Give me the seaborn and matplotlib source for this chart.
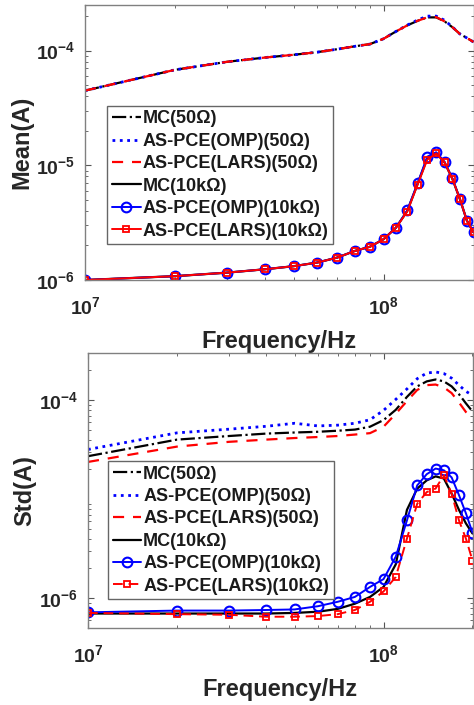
import numpy as np
import matplotlib
matplotlib.use("Agg")
import matplotlib.pyplot as plt
import matplotlib.ticker as mticker
import seaborn as sns

# ---------------- data ----------------
freq = [1e7, 2e7, 3e7, 4e7, 5e7, 6e7, 7e7, 8e7, 9e7, 1e8,
        1.1e8, 1.2e8, 1.3e8, 1.4e8, 1.5e8, 1.6e8, 1.7e8, 1.8e8, 1.9e8, 2e8]

mean_mc_50 = [4.48e-5, 6.8e-5, 8.0e-5, 8.7e-5, 9.2e-5, 9.7e-5, 1.03e-4, 1.09e-4, 1.14e-4, 1.27e-4,
              1.47e-4, 1.66e-4, 1.82e-4, 1.95e-4, 1.95e-4, 1.80e-4, 1.60e-4, 1.40e-4, 1.29e-4, 1.19e-4]
mean_omp_50 = [4.48e-5, 6.8e-5, 8.0e-5, 8.7e-5, 9.2e-5, 9.7e-5, 1.03e-4, 1.09e-4, 1.14e-4, 1.27e-4,
               1.47e-4, 1.67e-4, 1.85e-4, 2.00e-4, 2.00e-4, 1.84e-4, 1.61e-4, 1.40e-4, 1.29e-4, 1.19e-4]
mean_lars_50 = [4.48e-5, 6.8e-5, 8.0e-5, 8.7e-5, 9.2e-5, 9.7e-5, 1.03e-4, 1.09e-4, 1.14e-4, 1.27e-4,
                1.47e-4, 1.66e-4, 1.82e-4, 1.95e-4, 1.96e-4, 1.80e-4, 1.60e-4, 1.40e-4, 1.29e-4, 1.19e-4]

mean_mc_10k = [1.0e-6, 1.08e-6, 1.16e-6, 1.24e-6, 1.32e-6, 1.42e-6, 1.57e-6, 1.79e-6, 1.95e-6, 2.27e-6,
               2.86e-6, 4.0e-6, 6.9e-6, 1.15e-5, 1.28e-5, 1.06e-5, 7.6e-6, 5.1e-6, 3.3e-6, 2.6e-6]
mean_omp_10k = [1.0e-6, 1.08e-6, 1.16e-6, 1.24e-6, 1.32e-6, 1.42e-6, 1.57e-6, 1.79e-6, 1.95e-6, 2.27e-6,
                2.86e-6, 4.05e-6, 7.0e-6, 1.19e-5, 1.30e-5, 1.07e-5, 7.7e-6, 5.1e-6, 3.3e-6, 2.6e-6]
mean_lars_10k = [1.0e-6, 1.08e-6, 1.16e-6, 1.24e-6, 1.32e-6, 1.42e-6, 1.57e-6, 1.79e-6, 1.95e-6, 2.27e-6,
                 2.86e-6, 3.95e-6, 6.8e-6, 1.12e-5, 1.27e-5, 1.06e-5, 7.6e-6, 5.1e-6, 3.3e-6, 2.6e-6]

std_mc_50 = [2.72e-5, 4.0e-5, 4.35e-5, 4.6e-5, 4.72e-5, 4.8e-5, 4.92e-5, 5.05e-5, 5.4e-5, 6.3e-5,
             8.0e-5, 1.08e-4, 1.38e-4, 1.55e-4, 1.62e-4, 1.55e-4, 1.38e-4, 1.15e-4, 9.3e-5, 7.7e-5]
std_omp_50 = [3.18e-5, 4.68e-5, 5.1e-5, 5.45e-5, 5.85e-5, 5.5e-5, 5.6e-5, 5.85e-5, 6.35e-5, 7.9e-5,
              1.02e-4, 1.30e-4, 1.65e-4, 1.88e-4, 1.93e-4, 1.86e-4, 1.67e-4, 1.42e-4, 1.23e-4, 1.12e-4]
std_lars_50 = [2.38e-5, 3.4e-5, 3.8e-5, 4.0e-5, 4.15e-5, 4.25e-5, 4.35e-5, 4.5e-5, 4.65e-5, 5.4e-5,
               7.3e-5, 9.8e-5, 1.27e-4, 1.42e-4, 1.44e-4, 1.35e-4, 1.18e-4, 9.5e-5, 7.6e-5, 6.5e-5]

std_mc_10k = [7.0e-7, 7.0e-7, 7.0e-7, 7.0e-7, 7.1e-7, 7.3e-7, 7.8e-7, 8.8e-7, 1.03e-6, 1.3e-6,
              2.2e-6, 7.8e-6, 1.28e-5, 1.55e-5, 1.70e-5, 1.62e-5, 1.14e-5, 7.8e-6, 5.7e-6, 4.5e-6]
std_omp_10k = [7.2e-7, 7.5e-7, 7.5e-7, 7.6e-7, 7.7e-7, 8.3e-7, 9.2e-7, 1.03e-6, 1.3e-6, 1.56e-6,
               2.63e-6, 6.1e-6, 1.38e-5, 1.79e-5, 2.04e-5, 1.96e-5, 1.66e-5, 1.1e-5, 7.2e-6, 4.6e-6]
std_lars_10k = [7.1e-7, 6.9e-7, 6.8e-7, 6.5e-7, 6.5e-7, 6.6e-7, 6.9e-7, 7.6e-7, 9.2e-7, 1.17e-6,
                1.64e-6, 4.0e-6, 9.0e-6, 1.18e-5, 1.28e-5, 1.75e-5, 1.14e-5, 6.1e-6, 4.0e-6, 2.4e-6]

labels = ["MC(50Ω)", "AS-PCE(OMP)(50Ω)", "AS-PCE(LARS)(50Ω)",
          "MC(10kΩ)", "AS-PCE(OMP)(10kΩ)", "AS-PCE(LARS)(10kΩ)"]
xtick_vals = [1e7, 1e8]

# ---------------- style ----------------
sns.set_theme(style="ticks")
plt.rcParams["font.family"] = ["Liberation Sans", "DejaVu Sans"]
plt.rcParams["font.weight"] = "bold"
plt.rcParams["mathtext.fontset"] = "custom"
plt.rcParams["mathtext.rm"] = "Liberation Sans:bold"
plt.rcParams["mathtext.bf"] = "Liberation Sans:bold"
plt.rcParams["mathtext.it"] = "Liberation Sans:bold"

W, H = 474, 705
fig = plt.figure(figsize=(W / 100, H / 100), dpi=100)
ax1 = fig.add_axes([85 / W, 1 - 280 / H, 388.5 / W, 275 / H])
ax2 = fig.add_axes([88 / W, 1 - 628 / H, 384.5 / W, 275 / H])

LW = 1.6


def draw(ax, s50, s10k, lars10_ls):
    mc50, omp50, lars50 = s50
    mc10, omp10, lars10 = s10k
    sns.lineplot(x=freq, y=mc50, ax=ax, color="black", linestyle="-.", lw=LW, label=labels[0])
    sns.lineplot(x=freq, y=omp50, ax=ax, color="blue", linestyle=":", lw=LW + 0.4, label=labels[1])
    sns.lineplot(x=freq, y=lars50, ax=ax, color="red", linestyle=(0, (5, 4)), lw=LW, label=labels[2])
    sns.lineplot(x=freq, y=mc10, ax=ax, color="black", linestyle="-", lw=LW, label=labels[3])
    sns.lineplot(x=freq, y=omp10, ax=ax, color="blue", linestyle="-", lw=LW - 0.2, marker="o",
                 markersize=7, markerfacecolor="none", mec="blue", mew=1.5, label=labels[4])
    sns.lineplot(x=freq, y=lars10, ax=ax, color="red", linestyle=lars10_ls, lw=LW - 0.2, marker="s",
                 markersize=5, markerfacecolor="none", mec="red", mew=1.3, label=labels[5])


draw(ax1, (mean_mc_50, mean_omp_50, mean_lars_50),
     (mean_mc_10k, mean_omp_10k, mean_lars_10k), "-")
draw(ax2, (std_mc_50, std_omp_50, std_lars_50),
     (std_mc_10k, std_omp_10k, std_lars_10k), (0, (5, 3)))


def fmt_pow(v, pos=None):
    e = int(round(np.log10(v)))
    return r"$\mathbf{10^{%d}}$" % e


for ax, ylim, yt, ylab, leg_anchor in [
        (ax1, (1e-6, 2.5e-4), [1e-6, 1e-5, 1e-4], "Mean(A)", (0.057, 0.633)),
        (ax2, (5e-7, 3e-4), [1e-6, 1e-4], "Std(A)", (0.052, 0.607))]:
    ax.set_xscale("log")
    ax.set_yscale("log")
    ax.set_xlim(1e7, 2e8)
    ax.set_ylim(*ylim)
    ax.xaxis.set_major_locator(mticker.FixedLocator(xtick_vals))
    ax.xaxis.set_major_formatter(mticker.FuncFormatter(fmt_pow))
    ax.xaxis.set_minor_locator(mticker.LogLocator(base=10, subs=np.arange(2, 10)))
    ax.xaxis.set_minor_formatter(mticker.NullFormatter())
    ax.yaxis.set_major_locator(mticker.FixedLocator(yt))
    ax.yaxis.set_major_formatter(mticker.FuncFormatter(fmt_pow))
    ax.yaxis.set_minor_locator(mticker.LogLocator(base=10, subs=np.arange(2, 10), numticks=20))
    ax.yaxis.set_minor_formatter(mticker.NullFormatter())
    ax.tick_params(which="both", direction="in", top=True, right=True, colors="#555555",
                   labelcolor="#262626", labelsize=14)
    ax.tick_params(which="major", length=4, width=0.8)
    ax.tick_params(axis="y", which="major", pad=7)
    ax.tick_params(axis="x", which="major", pad=12)
    ax.tick_params(which="minor", length=2.5, width=0.6)
    for sp in ax.spines.values():
        sp.set_color("#808080")
        sp.set_linewidth(1.0)
    ax.set_xlabel("Frequency/Hz", fontsize=17, fontweight="bold", color="#262626", labelpad=8)
    ax.set_ylabel(ylab, fontsize=17, fontweight="bold", color="#262626", labelpad=2)
    leg = ax.legend(loc="upper left", bbox_to_anchor=leg_anchor, fontsize=13,
                    frameon=True, fancybox=False, edgecolor="#666666", framealpha=1,
                    handlelength=1.6, handletextpad=0.1, labelspacing=0.3, borderpad=0.25,
                    borderaxespad=0)
    leg.get_frame().set_linewidth(1.0)
    for t in leg.get_texts():
        t.set_fontweight("bold")
        t.set_color("#1a1a1a")

fig.savefig("out.png", dpi=100)
